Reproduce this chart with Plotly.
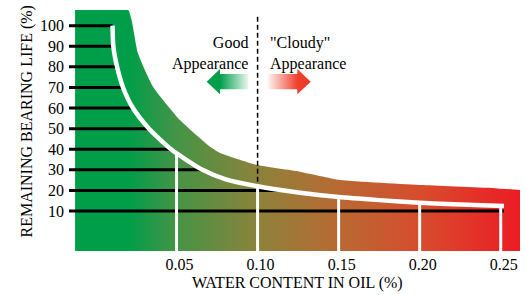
import numpy as np
import plotly.graph_objects as go

# ---- data ----
curve_x = [0.0105, 0.011, 0.0133, 0.017, 0.0231, 0.033, 0.0466, 0.066, 0.08, 0.10, 0.125, 0.15, 0.175, 0.20, 0.225, 0.252]
curve_y = [100, 90, 80, 70, 60, 50, 40, 30, 25.5, 22.0, 19.0, 16.8, 15.3, 14.0, 13.2, 12.4]

band_x = [-0.0126, 0.0201, 0.0223, 0.0262, 0.0355, 0.0521, 0.0707, 0.0769, 0.10, 0.126, 0.151, 0.202, 0.248, 0.2619]
band_y = [107.6, 107.6, 102.6, 86.6, 70.4, 54.2, 41.2, 38.2, 32.3, 29.1, 25.1, 22.6, 21.0, 20.2]
band_bottom = -9.4

y_levels = [10, 20, 30, 40, 50, 60, 70, 80, 90, 100]
x_ticks = [0.05, 0.10, 0.15, 0.20, 0.25]
x_tick_labels = ["0.05", "0.10", "0.15", "0.20", "0.25"]
divider_x = 0.10
divider_top = 104.3

X_RANGE = [-0.01635, 0.2619]
Y_RANGE = [-9.4, 107.6]

W, H = 527, 295
ML, MR, MT, MB = 69, 7, 10, 44
PW, PH = W - ML - MR, H - MT - MB

def paper_x(px):
    return (px - ML) / PW

def paper_y(py):
    return 1 - (py - MT) / PH

FONT = "Liberation Serif"
GREEN = "rgb(0,158,73)"

grad = [
    [0.0, "rgb(0,158,73)"],
    [0.12, "rgb(0,158,73)"],
    [0.23, "rgb(70,148,70)"],
    [0.41, "rgb(140,130,58)"],
    [0.595, "rgb(185,105,50)"],
    [0.78, "rgb(215,75,45)"],
    [1.0, "rgb(237,28,36)"],
]

fig = go.Figure()

# baseline of the band, then the band filled up to it
fig.add_trace(go.Scatter(x=[band_x[0], band_x[-1]], y=[band_bottom, band_bottom], mode="lines",
                         line=dict(width=0), hoverinfo="skip", showlegend=False))
fig.add_trace(go.Scatter(
    x=band_x, y=band_y, mode="lines", fill="tonexty", line=dict(width=0, shape="spline", smoothing=0.5),
    fillgradient=dict(type="horizontal", colorscale=grad, start=band_x[0], stop=band_x[-1]),
    hoverinfo="skip", showlegend=False))

cx = np.array(curve_x)
cy = np.array(curve_y)

def curve_x_at(level):
    return float(np.interp(level, cy[::-1], cx[::-1]))

def curve_y_at(xv):
    return float(np.interp(xv, cx, cy))

# black horizontal lines up to the curve
for lv in y_levels:
    fig.add_trace(go.Scatter(x=[X_RANGE[0], curve_x_at(lv)], y=[lv, lv], mode="lines",
                             line=dict(color="black", width=3), hoverinfo="skip", showlegend=False))

# white vertical lines up to the curve
for xv in x_ticks:
    fig.add_trace(go.Scatter(x=[xv, xv], y=[band_bottom, curve_y_at(min(xv, cx[-1]))], mode="lines",
                             line=dict(color="white", width=3), hoverinfo="skip", showlegend=False))

# dashed divider
fig.add_trace(go.Scatter(x=[divider_x, divider_x], y=[divider_top, curve_y_at(divider_x)], mode="lines",
                         line=dict(color="black", width=1.5, dash="5px,3px"), hoverinfo="skip", showlegend=False))

# white curve
fig.add_trace(go.Scatter(x=curve_x, y=curve_y, mode="lines",
                         line=dict(color="white", width=4.5, shape="spline", smoothing=0.6),
                         hoverinfo="skip", showlegend=False))

# gradient arrows
def arrow(tip, base, tail, yc, hh, sh):
    xs = [tip, base, base, tail, tail, base, base, tip]
    ys = [yc, yc + hh, yc + sh, yc + sh, yc - sh, yc - sh, yc - hh, yc]
    return xs, ys

ARROW_Y = 72.8
HEAD_H = 6.1
SHAFT_H = 3.7
gx, gy = arrow(0.0686, 0.0768, 0.0943, ARROW_Y, HEAD_H, SHAFT_H)
fig.add_trace(go.Scatter(x=gx, y=gy, mode="lines", fill="toself", line=dict(width=0),
                         fillgradient=dict(type="horizontal", start=0.0686, stop=0.0943,
                                           colorscale=[[0, GREEN], [0.32, GREEN], [1, "rgba(0,158,73,0.08)"]]),
                         hoverinfo="skip", showlegend=False))
rx, ry = arrow(0.1328, 0.1245, 0.1066, ARROW_Y, HEAD_H, SHAFT_H)
fig.add_trace(go.Scatter(x=rx, y=ry, mode="lines", fill="toself", line=dict(width=0),
                         fillgradient=dict(type="horizontal", start=0.1066, stop=0.1328,
                                           colorscale=[[0, "rgba(240,70,50,0.08)"], [0.68, "rgb(239,65,45)"], [1, "rgb(239,55,40)"]]),
                         hoverinfo="skip", showlegend=False))

annotations = [
    dict(x=0.0955, y=86.5, xref="x", yref="y", text="Good<br>Appearance", showarrow=False,
         xanchor="right", yanchor="middle", align="right", font=dict(family=FONT, size=16, color="black")),
    dict(x=0.1067, y=86.5, xref="x", yref="y", text="\"Cloudy\"<br>Appearance", showarrow=False,
         xanchor="left", yanchor="middle", align="left", font=dict(family=FONT, size=16, color="black")),
    dict(x=paper_x(26), y=paper_y(121.5), xref="paper", yref="paper", text="REMAINING BEARING LIFE (%)",
         showarrow=False, textangle=-90, xanchor="center", yanchor="middle",
         font=dict(family=FONT, size=16, color="black")),
    dict(x=paper_x(297.5), y=paper_y(283), xref="paper", yref="paper", text="WATER CONTENT IN OIL (%)",
         showarrow=False, xanchor="center", yanchor="middle",
         font=dict(family=FONT, size=16, color="black")),
]

fig.update_layout(
    width=W, height=H,
    margin=dict(l=ML, r=MR, t=MT, b=MB, autoexpand=False),
    paper_bgcolor="white", plot_bgcolor="white",
    showlegend=False,
    font=dict(family=FONT, size=16, color="black"),
    annotations=annotations,
    xaxis=dict(range=X_RANGE, showgrid=False, zeroline=False, showline=False, automargin=False,
               tickmode="array", tickvals=x_ticks, ticktext=x_tick_labels,
               tickfont=dict(family=FONT, size=16, color="black"),
               ticks="", ticklabelshift=3, ticklabelstandoff=2),
    yaxis=dict(range=Y_RANGE, showgrid=False, zeroline=False, showline=False, automargin=False,
               tickmode="array", tickvals=y_levels, ticktext=[str(v) for v in y_levels],
               tickfont=dict(family=FONT, size=16, color="black"),
               ticks="", ticklabelstandoff=4),
)

fig.write_html("out.html", config={"displayModeBar": False},
               post_script="document.body.style.margin='0';document.body.style.padding='0';")
